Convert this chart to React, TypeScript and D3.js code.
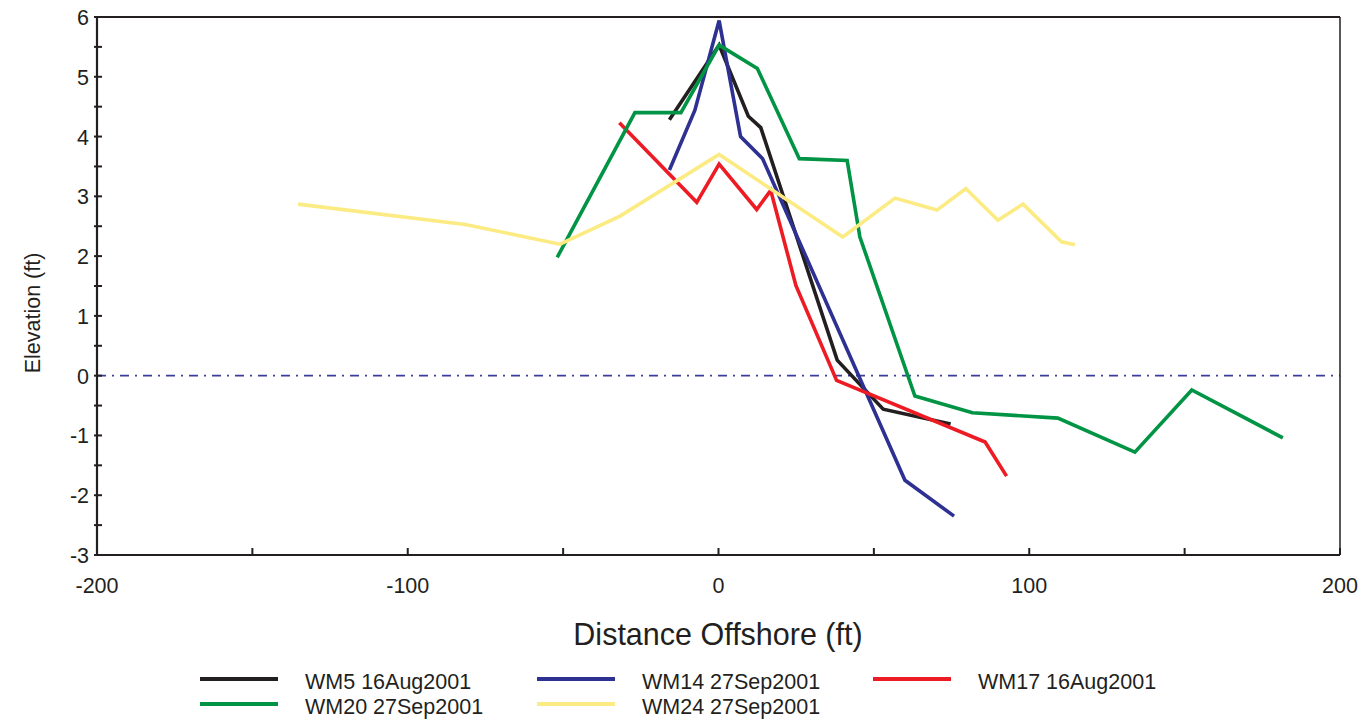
import React from "react";
import * as d3 from "d3";

const xTicks = [-200, -100, 0, 100, 200];
const xMinorTicks = [-200, -150, -100, -50, 0, 50, 100, 150, 200];
const yTicks = [-3, -2, -1, 0, 1, 2, 3, 4, 5, 6];
const yMinorTicks = [-3, -2.5, -2, -1.5, -1, -0.5, 0, 0.5, 1, 1.5, 2, 2.5, 3, 3.5, 4, 4.5, 5, 5.5, 6];

const wm5X = [-15.8, 0.2, 9.6, 13.6, 38.2, 53, 74.7];
const wm5Y = [4.28, 5.53, 4.34, 4.15, 0.26, -0.56, -0.81];

const wm14X = [-15.8, -7.6, 0.2, 7.1, 14.2, 60, 75.8];
const wm14Y = [3.44, 4.44, 5.94, 4.0, 3.63, -1.75, -2.35];

const wm17X = [-31.9, -7.0, 0.2, 12.3, 16.8, 24.9, 38, 85.8, 92.7];
const wm17Y = [4.23, 2.9, 3.54, 2.78, 3.1, 1.51, -0.08, -1.11, -1.68];

const wm20X = [-51.9, -26.9, -12.1, 0.2, 12.5, 26, 41.4, 45.5, 63.2, 81.7, 109.2, 134, 152.3, 181.6];
const wm20Y = [1.98, 4.4, 4.4, 5.53, 5.14, 3.63, 3.6, 2.32, -0.34, -0.62, -0.71, -1.28, -0.24, -1.04];

const wm24X = [-135.3, -81.5, -51, -31.7, 0.2, 40, 56.8, 70.3, 79.6, 89.9, 98, 110.4, 114.7];
const wm24Y = [2.87, 2.53, 2.2, 2.67, 3.7, 2.32, 2.97, 2.77, 3.13, 2.6, 2.87, 2.24, 2.19];

const seriesNames = ["WM5 16Aug2001", "WM14 27Sep2001", "WM17 16Aug2001", "WM20 27Sep2001", "WM24 27Sep2001"];
const seriesColors = ["#231f20", "#2e3192", "#ed1c24", "#009444", "#fbeb82"];
const seriesXs = [wm5X, wm14X, wm17X, wm20X, wm24X];
const seriesYs = [wm5Y, wm14Y, wm17Y, wm20Y, wm24Y];

const W = 1359;
const H = 720;
const left = 97;
const right = 1340;
const top = 17;
const bottom = 555;
const font = "'Liberation Sans', Arial, sans-serif";

export default function App() {
  const x = d3.scaleLinear().domain([-200, 200]).range([left, right]);
  const y = d3.scaleLinear().domain([-3, 6]).range([bottom, top]);
  const line = d3
    .line<[number, number]>()
    .x((d) => x(d[0]))
    .y((d) => y(d[1]));

  const legendPos = [
    { lx: 200, ty: 680 },
    { lx: 537, ty: 680 },
    { lx: 873, ty: 680 },
    { lx: 200, ty: 705 },
    { lx: 537, ty: 705 },
  ];

  return (
    <svg
      width={W}
      height={H}
      style={{ position: "absolute", left: 0, top: 0, background: "#fff" }}
      fontFamily={font}
    >
      <rect x={0} y={0} width={W} height={H} fill="#fff" />
      {/* zero reference line */}
      <line
        x1={x(-200)}
        x2={x(200)}
        y1={y(0)}
        y2={y(0)}
        stroke="#3b3d9a"
        strokeWidth={1.6}
        strokeDasharray="9,6,2,6"
      />
      {/* data lines */}
      {seriesXs.map((xs, i) => {
        const pts = xs.map((v, j) => [v, seriesYs[i][j]] as [number, number]);
        return (
          <path
            key={i}
            d={line(pts) || ""}
            fill="none"
            stroke={seriesColors[i]}
            strokeWidth={3.6}
            strokeLinejoin="miter"
          />
        );
      })}
      {/* frame */}
      <line x1={left} x2={right} y1={top} y2={top} stroke="#231f20" strokeWidth={2} />
      <line x1={right} x2={right} y1={top} y2={bottom} stroke="#231f20" strokeWidth={1.5} />
      <line x1={left} x2={right} y1={bottom} y2={bottom} stroke="#231f20" strokeWidth={2.2} />
      <line x1={left} x2={left} y1={top} y2={bottom} stroke="#231f20" strokeWidth={2.2} />
      {/* x ticks */}
      {xMinorTicks.map((t) => (
        <line key={"xt" + t} x1={x(t)} x2={x(t)} y1={bottom} y2={bottom - 7} stroke="#231f20" strokeWidth={2} />
      ))}
      {xTicks.map((t) => (
        <text key={"xl" + t} x={x(t)} y={593} textAnchor="middle" fontSize={21.5} fill="#231f20">
          {t}
        </text>
      ))}
      {/* y ticks */}
      {yMinorTicks.map((t) => (
        <line key={"yt" + t} x1={left - 3} x2={left + 5} y1={y(t)} y2={y(t)} stroke="#231f20" strokeWidth={2} />
      ))}
      {yTicks.map((t) => (
        <text key={"yl" + t} x={89} y={y(t) + 8} textAnchor="end" fontSize={21.5} fill="#231f20">
          {t}
        </text>
      ))}
      {/* axis titles */}
      <text x={718} y={645} textAnchor="middle" fontSize={30.5} fill="#231f20">
        Distance Offshore (ft)
      </text>
      <text
        transform={`translate(40, 313) rotate(-90)`}
        textAnchor="middle"
        fontSize={21.5}
        fill="#231f20"
      >
        Elevation (ft)
      </text>
      {/* legend */}
      {seriesNames.map((n, i) => (
        <g key={"lg" + i}>
          <line
            x1={legendPos[i].lx}
            x2={legendPos[i].lx + 78}
            y1={legendPos[i].ty - 1}
            y2={legendPos[i].ty - 1}
            stroke={seriesColors[i]}
            strokeWidth={4}
          />
          <text x={legendPos[i].lx + 105} y={legendPos[i].ty + 9} fontSize={21.5} fill="#231f20">
            {n}
          </text>
        </g>
      ))}
    </svg>
  );
}
